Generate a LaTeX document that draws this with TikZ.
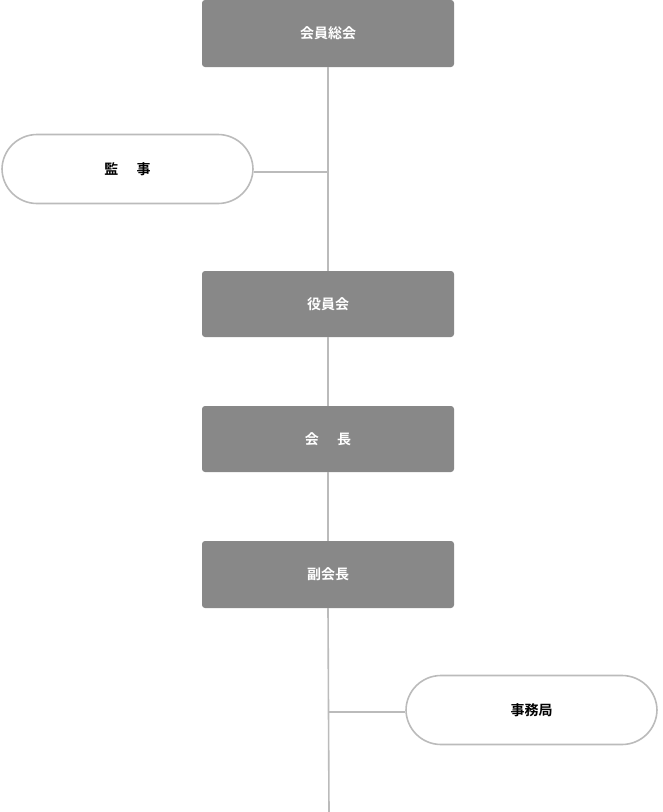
\documentclass[tikz,border=0pt]{standalone}
\usepackage{fontspec}
\newfontfamily\cjk{Noto Sans CJK JP}[BoldFont={Noto Sans CJK JP Bold}]
\begin{document}
\begin{tikzpicture}[x=1pt,y=-1pt,
  gbox/.style={fill=boxgray,rounded corners=3pt,minimum width=252pt,inner sep=0pt,text=white,font=\cjk\bfseries\fontsize{14}{16}\selectfont},
  pill/.style={draw=pillgray,line width=1.6pt,rounded corners=35pt,fill=white,minimum width=251pt,minimum height=69pt,inner sep=0pt,font=\cjk\bfseries\fontsize{14}{16}\selectfont},
  conn/.style={draw=linegray,line width=1.6pt}]
\definecolor{boxgray}{HTML}{888888}
\definecolor{pillgray}{HTML}{BBBBBB}
\definecolor{linegray}{HTML}{BBBBBB}
\useasboundingbox (0,0) rectangle (662,812);
\coordinate (bottom) at (329,812);
\coordinate (j1) at (329,172);
\coordinate (j2) at (329,712);
\node[gbox,minimum height=67pt] (a) at (328,33.5) {会員総会};
\node[gbox,minimum height=66pt] (b) at (328,304) {役員会};
\node[gbox,minimum height=66pt] (c) at (328,439) {会\hspace{1.3em}長};
\node[gbox,minimum height=67pt] (d) at (328,574.5) {副会長};
\path[conn] (a.south) -- (b.north);
\path[conn] (b.south) -- (c.north);
\path[conn] (c.south) -- (d.north);
\path[conn] (d.south) -- (bottom);
\node[pill] (k) at (127.5,169) {監\hspace{1.3em}事};
\node[pill] (e) at (531.5,710) {事務局};
\path[conn] (k.east |- j1) -- (j1);
\path[conn] (j2) -- (e.west |- j2);
\end{tikzpicture}
\end{document}
